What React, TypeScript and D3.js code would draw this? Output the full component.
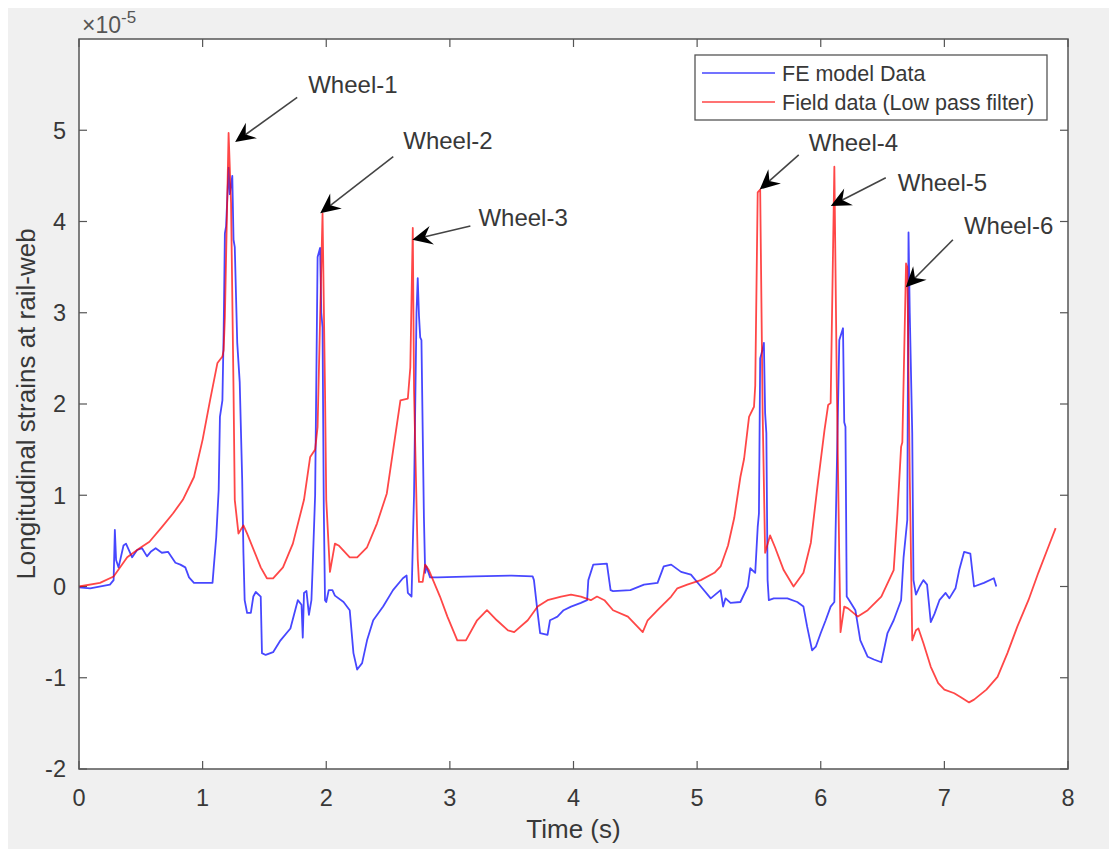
import React from "react";
import * as d3 from "d3";

// FE model data (strain in units of 1e-5)
const feTime = [
  0.0, 0.09, 0.25, 0.28, 0.29, 0.3, 0.32, 0.36, 0.38, 0.43, 0.47, 0.51, 0.55, 0.58, 0.62, 0.67, 0.72, 0.78, 0.82, 0.86,
  0.89, 0.93, 1.08, 1.09, 1.11, 1.13, 1.14, 1.16, 1.17, 1.18, 1.19, 1.21, 1.22, 1.24, 1.25, 1.26, 1.28, 1.3, 1.32, 1.33,
  1.34, 1.36, 1.39, 1.41, 1.43, 1.47, 1.48, 1.51, 1.57, 1.63, 1.71, 1.77, 1.8, 1.81, 1.82, 1.84, 1.86, 1.88, 1.89, 1.91,
  1.93, 1.95, 1.96, 1.97, 1.98, 1.99, 2.0, 2.02, 2.05, 2.07, 2.14, 2.19, 2.22, 2.25, 2.29, 2.33, 2.38, 2.46, 2.54, 2.62,
  2.65, 2.66, 2.69, 2.71, 2.73, 2.74, 2.75, 2.76, 2.77, 2.79, 2.8, 2.81, 2.84, 2.9, 3.2, 3.5, 3.67, 3.68, 3.71, 3.73,
  3.79, 3.81, 3.84, 3.87, 3.92, 3.98, 4.06, 4.11, 4.12, 4.16, 4.27, 4.3, 4.32, 4.46, 4.57, 4.68, 4.73, 4.79, 4.87, 4.95,
  5.03, 5.11, 5.19, 5.21, 5.23, 5.27, 5.35, 5.41, 5.43, 5.47, 5.49, 5.5, 5.51, 5.53, 5.54, 5.55, 5.56, 5.57, 5.58, 5.62,
  5.73, 5.81, 5.86, 5.89, 5.93, 5.96, 6.0, 6.04, 6.08, 6.11, 6.12, 6.14, 6.15, 6.18, 6.19, 6.2, 6.21, 6.23, 6.28, 6.32,
  6.38, 6.43, 6.49, 6.54, 6.59, 6.65, 6.67, 6.7, 6.71, 6.72, 6.74, 6.75, 6.77, 6.8, 6.83, 6.86, 6.89, 6.92, 6.96, 7.01,
  7.04, 7.09, 7.12, 7.16, 7.21, 7.24, 7.32, 7.4, 7.42,
];
const feStrain = [
  -0.01, -0.02, 0.02, 0.07, 0.62, 0.29, 0.21, 0.45, 0.47, 0.32, 0.4, 0.42, 0.33, 0.38, 0.42, 0.37, 0.38, 0.26, 0.24, 0.21,
  0.1, 0.04, 0.04, 0.21, 0.54, 1.06, 1.86, 2.04, 2.78, 3.87, 3.95, 4.59, 4.3, 4.5, 3.8, 3.72, 2.67, 2.24, 1.17, 0.37,
  -0.15, -0.29, -0.29, -0.11, -0.06, -0.11, -0.73, -0.75, -0.72, -0.59, -0.46, -0.15, -0.2, -0.56, -0.07, -0.05, -0.31, -0.15, 0.21, 1.0,
  3.61, 3.71, 3.0, 2.84, 0.87, -0.15, -0.17, -0.04, -0.04, -0.1, -0.17, -0.26, -0.73, -0.91, -0.84, -0.59, -0.37, -0.22, -0.04, 0.09,
  0.12, -0.07, -0.11, 1.0, 3.0, 3.38, 2.97, 2.73, 2.7, 0.76, 0.15, 0.22, 0.1, 0.1, 0.11, 0.12, 0.11, 0.07, -0.29, -0.51,
  -0.53, -0.37, -0.35, -0.33, -0.26, -0.22, -0.18, -0.15, 0.07, 0.24, 0.25, -0.04, -0.05, -0.04, 0.02, 0.04, 0.22, 0.24, 0.16, 0.13,
  0.0, -0.13, -0.04, -0.22, -0.13, -0.18, -0.17, 0.0, 0.2, 0.15, 0.65, 0.8, 2.5, 2.6, 2.67, 1.9, 1.68, 0.07, -0.15, -0.13,
  -0.13, -0.17, -0.22, -0.44, -0.7, -0.66, -0.51, -0.37, -0.22, -0.17, 0.59, 2.0, 2.7, 2.83, 1.8, 1.75, -0.11, -0.15, -0.26, -0.59,
  -0.77, -0.8, -0.83, -0.51, -0.37, -0.15, 0.32, 0.73, 3.88, 3.0, 1.68, 0.07, -0.09, 0.0, 0.07, 0.02, -0.39, -0.3, -0.15, -0.07,
  -0.13, -0.02, 0.18, 0.38, 0.36, 0.0, 0.04, 0.09, 0.0,
];

// Field data, low pass filtered (strain in units of 1e-5)
const fieldTime = [
  0.0, 0.17, 0.28, 0.39, 0.49, 0.57, 0.67, 0.76, 0.84, 0.93, 1.0, 1.06, 1.12, 1.16, 1.17, 1.18, 1.21, 1.23, 1.25, 1.26,
  1.29, 1.33, 1.36, 1.47, 1.52, 1.57, 1.65, 1.73, 1.82, 1.87, 1.91, 1.93, 1.97, 1.99, 2.0, 2.03, 2.07, 2.1, 2.19, 2.25,
  2.33, 2.41, 2.49, 2.6, 2.66, 2.68, 2.7, 2.71, 2.74, 2.75, 2.78, 2.8, 2.83, 2.92, 2.98, 3.06, 3.13, 3.22, 3.3, 3.38,
  3.47, 3.52, 3.63, 3.71, 3.79, 3.9, 3.98, 4.06, 4.14, 4.19, 4.25, 4.32, 4.44, 4.56, 4.6, 4.68, 4.79, 4.84, 4.92, 5.03,
  5.14, 5.19, 5.25, 5.3, 5.35, 5.38, 5.42, 5.46, 5.47, 5.49, 5.51, 5.53, 5.55, 5.59, 5.63, 5.7, 5.78, 5.86, 5.92, 5.97,
  6.03, 6.06, 6.08, 6.11, 6.13, 6.15, 6.16, 6.19, 6.22, 6.3, 6.38, 6.49, 6.59, 6.62, 6.65, 6.66, 6.69, 6.7, 6.72, 6.74,
  6.77, 6.79, 6.83, 6.89, 6.95, 7.0, 7.08, 7.13, 7.2, 7.24, 7.34, 7.43, 7.51, 7.59, 7.68, 7.76, 7.84, 7.9,
];
const fieldStrain = [
  0.0, 0.04, 0.11, 0.32, 0.42, 0.49, 0.65, 0.8, 0.95, 1.2, 1.61, 2.04, 2.45, 2.52, 2.59, 2.95, 4.97, 4.2, 2.15, 0.95,
  0.58, 0.67, 0.58, 0.21, 0.09, 0.09, 0.21, 0.47, 0.95, 1.42, 1.5, 1.75, 4.09, 2.15, 0.95, 0.16, 0.47, 0.45, 0.32, 0.32,
  0.43, 0.69, 1.02, 2.04, 2.06, 2.4, 3.93, 2.15, 0.3, 0.05, 0.05, 0.24, 0.18, -0.11, -0.33, -0.59, -0.59, -0.37, -0.26, -0.37,
  -0.48, -0.5, -0.37, -0.22, -0.15, -0.11, -0.09, -0.11, -0.15, -0.11, -0.15, -0.26, -0.33, -0.5, -0.37, -0.26, -0.11, -0.02, 0.02, 0.07,
  0.15, 0.22, 0.45, 0.75, 1.2, 1.4, 1.86, 1.97, 2.2, 4.32, 4.35, 1.9, 0.37, 0.56, 0.43, 0.18, 0.0, 0.15, 0.48, 1.06,
  1.71, 1.99, 2.01, 4.6, 2.19, 0.3, -0.5, -0.22, -0.24, -0.33, -0.26, -0.11, 0.18, 0.8, 1.53, 1.58, 3.54, 3.5, 1.2, -0.59,
  -0.48, -0.46, -0.62, -0.88, -1.06, -1.13, -1.17, -1.21, -1.27, -1.24, -1.13, -0.99, -0.73, -0.44, -0.15, 0.15, 0.43, 0.64,
];

const xTicks = [0, 1, 2, 3, 4, 5, 6, 7, 8];
const yTicks = [-2, -1, 0, 1, 2, 3, 4, 5];
const seriesNames = ["FE model Data", "Field data (Low pass filter)"];

// wheel annotations, in data units
const wheelNames = ["Wheel-1", "Wheel-2", "Wheel-3", "Wheel-4", "Wheel-5", "Wheel-6"];
const wheelTipT = [1.263, 1.951, 2.696, 5.506, 6.081, 6.688];
const wheelTipV = [4.87, 4.09, 3.8, 4.35, 4.17, 3.28];
const wheelTailT = [1.765, 2.542, 3.166, 5.822, 6.526, 7.069];
const wheelTailV = [5.36, 4.71, 3.95, 4.73, 4.48, 3.8];
const wheelTextT = [1.854, 2.623, 3.231, 5.903, 6.623, 7.158];
const wheelTextV = [5.5, 4.89, 4.04, 4.87, 4.43, 3.96];

const W = 1109;
const H = 841;
const m = { left: 71, top: 31, right: 1060, bottom: 761 };
const font = "'Liberation Sans', Arial, Helvetica, sans-serif";
const textColor = "#383838";
const axisColor = "#555";

const App = () => {
  const x = d3.scaleLinear().domain([0, 8]).range([m.left, m.right]);
  const y = d3.scaleLinear().domain([-2, 6]).range([m.bottom, m.top]);

  const makePath = (ts: number[], vs: number[]) =>
    d3
      .line<number>()
      .x((t) => x(t))
      .y((_, i) => y(vs[i]))(ts) || "";

  const fePath = makePath(feTime, feStrain);
  const fieldPath = makePath(fieldTime, fieldStrain);

  //arrow heads like matlab's vback2
  const arrows = wheelNames.map((name, i) => {
    const tx = x(wheelTipT[i]);
    const ty = y(wheelTipV[i]);
    const sx = x(wheelTailT[i]);
    const sy = y(wheelTailV[i]);
    const len = Math.hypot(sx - tx, sy - ty);
    const ux = (sx - tx) / len;
    const uy = (sy - ty) / len;
    const px = -uy;
    const py = ux;
    const hl = 20;
    const hw = 9.5;
    const notch = 13;
    const head = [
      [tx, ty],
      [tx + ux * hl + px * hw, ty + uy * hl + py * hw],
      [tx + ux * notch, ty + uy * notch],
      [tx + ux * hl - px * hw, ty + uy * hl - py * hw],
    ]
      .map((p) => p.join(","))
      .join(" ");
    return {
      name,
      head,
      x1: sx,
      y1: sy,
      x2: tx + ux * notch,
      y2: ty + uy * notch,
      lx: x(wheelTextT[i]),
      ly: y(wheelTextV[i]),
    };
  });

  const tickLen = 8;

  return (
    <div>
      <style>{"html,body{overflow:hidden}"}</style>
      <svg width={W} height={H} style={{ display: "block", fontFamily: font }}>
        <rect x={0} y={0} width={W} height={H} fill="#f0f0f0" />
        <rect x={m.left} y={m.top} width={m.right - m.left} height={m.bottom - m.top} fill="#fff" />

        {/* ticks on all four sides, pointing inwards */}
        {xTicks.map((t) => (
          <g key={"xt" + t}>
            <line x1={x(t)} x2={x(t)} y1={m.bottom} y2={m.bottom - tickLen} stroke={axisColor} strokeWidth={1.2} />
            <line x1={x(t)} x2={x(t)} y1={m.top} y2={m.top + tickLen} stroke={axisColor} strokeWidth={1.2} />
            <text x={x(t)} y={m.bottom + 37} textAnchor="middle" fontSize={23.5} fill={textColor}>
              {t}
            </text>
          </g>
        ))}
        {yTicks.map((v) => (
          <g key={"yt" + v}>
            <line x1={m.left} x2={m.left + tickLen} y1={y(v)} y2={y(v)} stroke={axisColor} strokeWidth={1.2} />
            <line x1={m.right} x2={m.right - tickLen} y1={y(v)} y2={y(v)} stroke={axisColor} strokeWidth={1.2} />
            <text x={m.left - 13} y={y(v)} dy="0.36em" textAnchor="end" fontSize={23.5} fill={textColor}>
              {v}
            </text>
          </g>
        ))}

        {/* data */}
        <path d={fePath} fill="none" stroke="#0000ff" strokeOpacity={0.72} strokeWidth={1.8} strokeLinejoin="round" />
        <path d={fieldPath} fill="none" stroke="#ff0000" strokeOpacity={0.72} strokeWidth={1.8} strokeLinejoin="round" />

        {/* axes box */}
        <rect
          x={m.left}
          y={m.top}
          width={m.right - m.left}
          height={m.bottom - m.top}
          fill="none"
          stroke={axisColor}
          strokeWidth={1.5}
        />

        {/* exponent */}
        <text x={m.left + 3} y={m.top - 6} fontSize={23} fill="#555">
          ×10
          <tspan dy={-10} fontSize={17}>
            -5
          </tspan>
        </text>

        {/* axis labels */}
        <text x={(m.left + m.right) / 2} y={830} textAnchor="middle" fontSize={26} fill={textColor}>
          Time (s)
        </text>
        <text
          transform={`translate(27,${(m.top + m.bottom) / 2}) rotate(-90)`}
          textAnchor="middle"
          fontSize={26}
          fill={textColor}
        >
          Longitudinal strains at rail-web
        </text>

        {/* wheel annotations */}
        {arrows.map((a) => (
          <g key={a.name}>
            <line x1={a.x1} y1={a.y1} x2={a.x2} y2={a.y2} stroke="#444" strokeWidth={1.6} />
            <polygon points={a.head} fill="#000" />
            <text x={a.lx} y={a.ly} dy="0.36em" fontSize={24} fill={textColor}>
              {a.name}
            </text>
          </g>
        ))}

        {/* legend */}
        <g>
          <rect x={687} y={47} width={352} height={65} fill="#fff" stroke={axisColor} strokeWidth={1.3} />
          {seriesNames.map((s, i) => (
            <g key={s}>
              <line
                x1={694}
                x2={767}
                y1={65 + i * 29}
                y2={65 + i * 29}
                stroke={i === 0 ? "#0000ff" : "#ff0000"}
                strokeOpacity={0.55}
                strokeWidth={1.8}
              />
              <text x={774} y={65 + i * 29} dy="0.36em" fontSize={21.5} fill={textColor}>
                {s}
              </text>
            </g>
          ))}
        </g>
      </svg>
    </div>
  );
};

export default App;
